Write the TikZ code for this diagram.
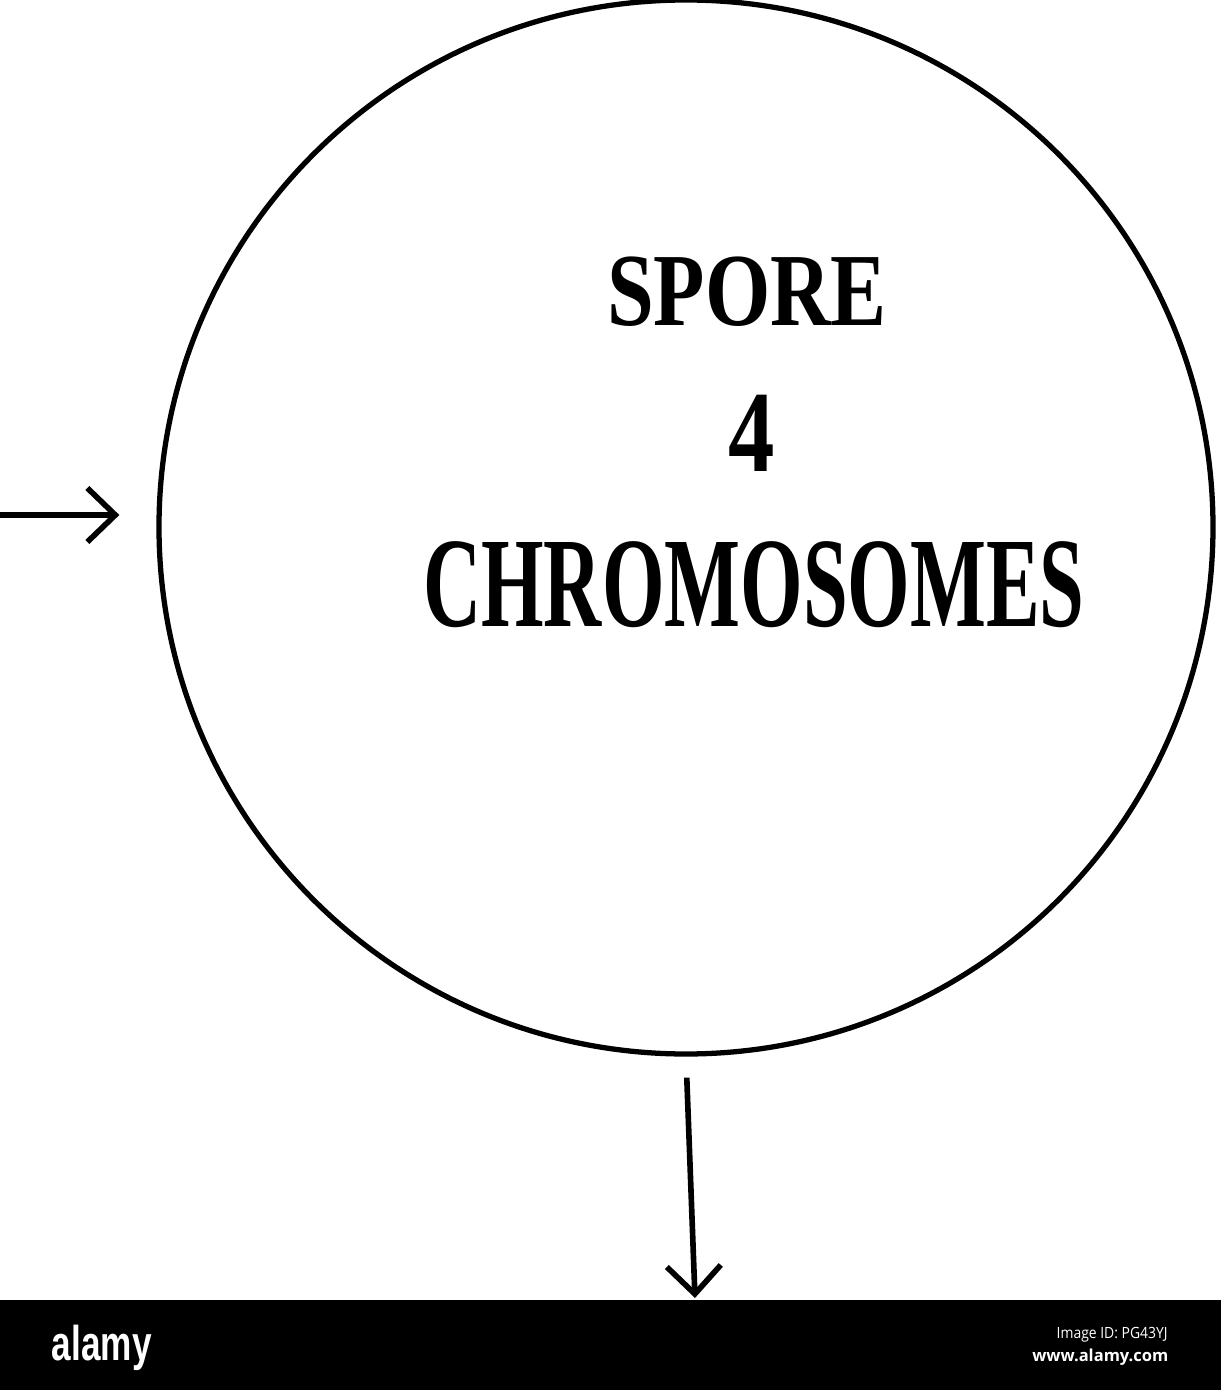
\documentclass[tikz,border=0pt]{standalone}
\usepackage{fontspec}
\usetikzlibrary{arrows.meta}
\newfontfamily\sporefont{Liberation Serif}
\newfontfamily\stockfont{Liberation Sans}
\newfontfamily\idfont{Open Sans}

\begin{document}
\begin{tikzpicture}[line width=1.5pt,
    cell/.style={draw, circle, minimum size=10.54cm, inner sep=0pt},
    arr/.style={-{Straight Barb[length=2.8mm, width=5.4mm]}, line width=1.6pt},
    word/.style={anchor=base, inner sep=0pt}]
      \useasboundingbox (0, 0) rectangle (12.21, 13.9);

      % Spore
      \node[cell] (spore) at (6.86, 8.63) {};
      \node[word, xscale=0.81] (name) at (7.47, 10.65) {\sporefont\bfseries\fontsize{29.5}{30}\selectfont SPORE};
      \node[word, xscale=0.8] (count) at (7.52, 9.18) {\sporefont\bfseries\fontsize{33}{34}\selectfont 4};
      \node[word, xscale=0.627] (chrom) at (7.54, 7.63) {\sporefont\bfseries\fontsize{36.5}{37}\selectfont CHROMOSOMES};

      % Strip
      \fill[black] (0, 0) rectangle (12.21, 0.9);
      \node[anchor=base west, inner sep=0pt, white, xscale=0.72] (logo) at (0.5, 0.30) {\stockfont\bfseries\fontsize{13.9}{14}\selectfont alamy};
      \node[anchor=base east, inner sep=0pt, white, xscale=0.9] (imgid) at (11.70, 0.52) {\idfont\fontsize{4.4}{5}\selectfont Image ID: PG43YJ};
      \node[anchor=base east, inner sep=0pt, white] (site) at (11.71, 0.29) {\idfont\bfseries\fontsize{4.7}{5}\selectfont www.alamy.com};

      % Arrows
      \coordinate (in) at (0, 8.75);
      \coordinate (out) at (6.95, 0.92);
      \draw[arr, shorten >=0.37cm] (in) -- (in -| spore.west);
      \draw[arr, shorten <=0.21cm] (spore.south) -- (out);
    \end{tikzpicture}
\end{document}
